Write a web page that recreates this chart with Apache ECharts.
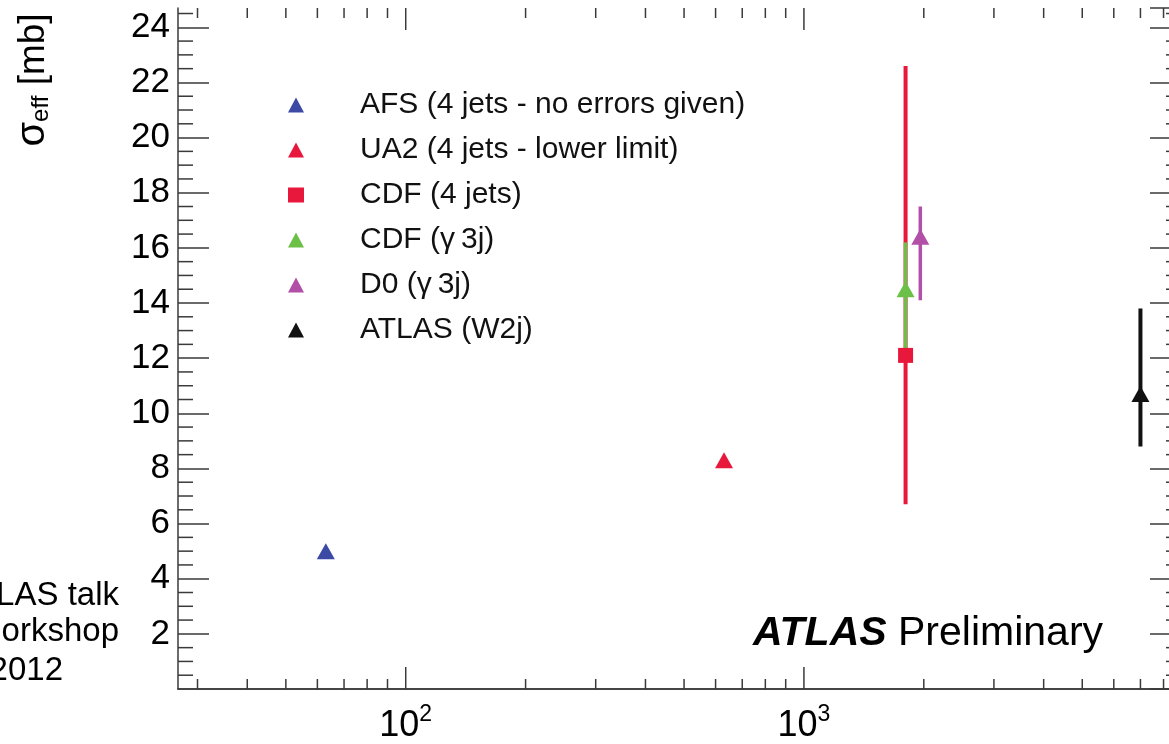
<!DOCTYPE html>
<html>
<head>
<meta charset="utf-8">
<title>sigma_eff vs sqrt(s)</title>
<script src="https://cdn.jsdelivr.net/npm/echarts@6.0.0/dist/echarts.min.js"></script>
<style>
  html, body { margin: 0; padding: 0; overflow: hidden; background: #fff; }
  #chart { width: 1200px; height: 744px; }
</style>
</head>
<body>
<div id="chart"></div>
<script>
// values: sqrt(s) in GeV, sigma_eff in mb
const names = ['AFS (4 jets - no errors given)', 'UA2 (4 jets - lower limit)', 'CDF (4 jets)', 'CDF (γ\u20093j)', 'D0 (γ\u20093j)', 'ATLAS (W2j)'];
const sqrtS = [63, 630, 1800, 1800, 1960, 7000];
const sigmaEff = [5.0, 8.3, 12.1, 14.5, 16.4, 10.7];
const errUp = [0, 0, 10.5, 1.7, 1.1, 3.1];
const errDown = [0, 0, 5.4, 2.3, 2.3, 1.9];
const symbols = ['triangle', 'triangle', 'rect', 'triangle', 'triangle', 'triangle'];
const colors = ['#3c4aa6', '#e8173c', '#e8173c', '#6cbf47', '#b24fa7', '#111111'];

// axis ticks
const xMajor = [100, 1000];
const xMinor = [30, 40, 50, 60, 70, 80, 90, 200, 300, 400, 500, 600, 700, 800, 900,
                2000, 3000, 4000, 5000, 6000, 7000, 8000];
const xMin = 26.8, xMax = 8850;
const yMax = 24.7;
const yMinor = [];
for (let v = 0.5; v < yMax; v += 0.5) if (v % 2 !== 0) yMinor.push(v);

const FONT = 'Liberation Sans, Arial, Helvetica, sans-serif';
const AXIS = '#3a3a3a';

var myChart = echarts.init(document.getElementById('chart'));

// error bars: [x, low, high, index]
const errData = [];
for (let i = 0; i < names.length; i++) {
  if (errUp[i] > 0 || errDown[i] > 0) {
    errData.push([sqrtS[i], sigmaEff[i] - errDown[i], sigmaEff[i] + errUp[i], i]);
  }
}

const series = [];
series.push({
  type: 'custom',
  name: 'errors',
  silent: true,
  z: 2,
  data: errData,
  encode: { x: 0, y: [1, 2] },
  renderItem: function (params, api) {
    const lo = api.coord([api.value(0), api.value(1)]);
    const hi = api.coord([api.value(0), api.value(2)]);
    const idx = api.value(3);
    return {
      type: 'line',
      shape: { x1: lo[0], y1: lo[1], x2: hi[0], y2: hi[1] },
      style: { stroke: colors[idx], lineWidth: idx === 2 || idx === 5 ? 4 : 3.5 }
    };
  }
});

names.forEach(function (n, i) {
  series.push({
    type: 'scatter',
    name: n,
    z: 5,
    symbol: symbols[i],
    symbolSize: symbols[i] === 'rect' ? 15 : [18, 16],
    itemStyle: { color: colors[i], opacity: 1 },
    data: [[sqrtS[i], sigmaEff[i]]]
  });
});

// x ticks, bottom and top of the frame
const xTickData = xMajor.map(v => [v, 0, 22]).concat(xMinor.map(v => [v, 0, 10]));
series.push({
  type: 'custom',
  name: 'xticks',
  silent: true,
  z: 1,
  data: xTickData,
  renderItem: function (params, api) {
    const cs = params.coordSys;
    const px = api.coord([api.value(0), 0])[0];
    const len = api.value(2);
    const st = { stroke: AXIS, lineWidth: 1.5 };
    return {
      type: 'group',
      children: [
        { type: 'line', shape: { x1: px, y1: cs.y + cs.height, x2: px, y2: cs.y + cs.height - len }, style: st },
        { type: 'line', shape: { x1: px, y1: cs.y, x2: px, y2: cs.y + len }, style: st }
      ]
    };
  }
});

// y minor ticks, left and right
series.push({
  type: 'custom',
  name: 'yticks',
  silent: true,
  z: 1,
  data: yMinor.map(v => [100, v]),
  renderItem: function (params, api) {
    const cs = params.coordSys;
    const py = api.coord([100, api.value(1)])[1];
    const st = { stroke: AXIS, lineWidth: 1.5 };
    return {
      type: 'group',
      children: [
        { type: 'line', shape: { x1: cs.x, y1: py, x2: cs.x + 15, y2: py }, style: st },
        { type: 'line', shape: { x1: cs.x + cs.width, y1: py, x2: cs.x + cs.width - 15, y2: py }, style: st }
      ]
    };
  }
});

const option = {
  animation: false,
  backgroundColor: '#fff',
  grid: { left: 178, top: 8, right: 19, bottom: 55 },
  legend: {
    data: names.map((n, i) => ({ name: n, icon: symbols[i] })),
    orient: 'vertical',
    left: 283,
    top: 85,
    itemGap: 15,
    itemWidth: 16,
    itemHeight: 15,
    selectedMode: false,
    textStyle: { fontFamily: FONT, fontSize: 30, color: '#111', padding: [0, 0, 0, 51] }
  },
  xAxis: [
    {
      type: 'log',
      logBase: 10,
      min: xMin,
      max: xMax,
      position: 'bottom',
      axisLine: { show: true, lineStyle: { color: AXIS, width: 1.5 } },
      axisTick: { show: false },
      splitLine: { show: false },
      axisLabel: {
        margin: 14,
        showMinLabel: false,
        showMaxLabel: false,
        color: '#000',
        fontFamily: FONT,
        formatter: function (v) {
          const e = Math.log10(v);
          if (Math.abs(e - Math.round(e)) < 1e-6) return '{b|10}{s|' + Math.round(e) + '}';
          return '';
        },
        rich: {
          b: { fontFamily: FONT, fontSize: 36, color: '#000', padding: [5, 0, 0, 0], verticalAlign: 'bottom' },
          s: { fontFamily: FONT, fontSize: 23, color: '#000', verticalAlign: 'top' }
        }
      }
    },
    {
      type: 'log',
      logBase: 10,
      min: xMin,
      max: xMax,
      position: 'top',
      axisLine: { show: true, lineStyle: { color: AXIS, width: 1.5 } },
      axisTick: { show: false },
      axisLabel: { show: false },
      splitLine: { show: false }
    }
  ],
  yAxis: [
    {
      type: 'value',
      min: 0,
      max: yMax,
      interval: 2,
      position: 'left',
      axisLine: { show: true, lineStyle: { color: AXIS, width: 1.5 } },
      axisTick: { show: true, inside: true, length: 31, lineStyle: { color: AXIS, width: 1.5 } },
      splitLine: { show: false },
      axisLabel: {
        margin: 8,
        showMinLabel: false,
        showMaxLabel: false,
        color: '#000',
        fontFamily: FONT,
        fontSize: 35
      }
    },
    {
      type: 'value',
      min: 0,
      max: yMax,
      interval: 2,
      position: 'right',
      axisLine: { show: true, lineStyle: { color: AXIS, width: 1.5 } },
      axisTick: { show: true, inside: true, length: 31, lineStyle: { color: AXIS, width: 1.5 } },
      splitLine: { show: false },
      axisLabel: { show: false }
    }
  ],
  graphic: [
    {
      type: 'text',
      x: 53,
      y: 80,
      rotation: Math.PI / 2,
      style: {
        text: '{s|σ}{e|eff}{m| [mb]}',
        textAlign: 'center',
        textVerticalAlign: 'bottom',
        rich: {
          s: { fontFamily: FONT, fontSize: 40, color: '#000', verticalAlign: 'top' },
          e: { fontFamily: FONT, fontSize: 24, color: '#000', verticalAlign: 'bottom', padding: [14, 0, 0, 0] },
          m: { fontFamily: FONT, fontSize: 37, color: '#000', verticalAlign: 'top', padding: [2, 0, 0, 0] }
        }
      }
    },
    {
      type: 'text',
      x: 753,
      y: 634,
      style: {
        text: '{b|ATLAS}{n| Preliminary}',
        textVerticalAlign: 'middle',
        rich: {
          b: { fontFamily: FONT, fontSize: 41, fontWeight: 'bold', fontStyle: 'italic', color: '#000' },
          n: { fontFamily: FONT, fontSize: 41, color: '#000' }
        }
      }
    },
    { type: 'text', x: 119, y: 596, style: { text: 'LAS talk', textAlign: 'right', textVerticalAlign: 'middle', fontFamily: FONT, fontSize: 33, fill: '#000' } },
    { type: 'text', x: 119, y: 632, style: { text: 'orkshop', textAlign: 'right', textVerticalAlign: 'middle', fontFamily: FONT, fontSize: 33, fill: '#000' } },
    { type: 'text', x: 63, y: 671, style: { text: '2012', textAlign: 'right', textVerticalAlign: 'middle', fontFamily: FONT, fontSize: 33, fill: '#000' } }
  ],
  series: series
};

myChart.setOption(option);
</script>
</body>
</html>
